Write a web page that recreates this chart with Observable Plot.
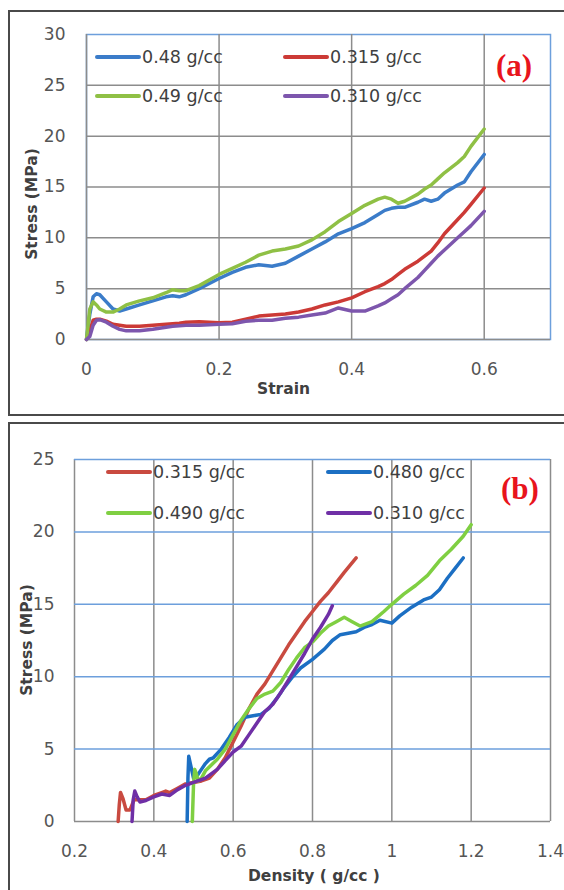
<!DOCTYPE html>
<html>
<head>
<meta charset="utf-8">
<script src="https://cdn.jsdelivr.net/npm/d3@7"></script>
<script src="https://cdn.jsdelivr.net/npm/@observablehq/plot@0.6"></script>
<style>
  html, body { margin: 0; padding: 0; background: #fff; }
  #wrap { position: relative; width: 564px; height: 890px; overflow: hidden; background: #fff; font-family: "DejaVu Sans", sans-serif; }
  .frame { position: absolute; border: 2px solid #4a4a4a; box-sizing: border-box; }
  .chart { position: absolute; left: 0; }
  .leg { position: absolute; display: flex; align-items: center; height: 22px; font-size: 17.5px; color: #404040; white-space: nowrap; }
  .leg .sw { display: inline-block; width: 46px; height: 4px; border-radius: 2px; margin-right: 1px; }
  .tag { position: absolute; font-family: "Liberation Serif", "Times New Roman", serif; font-weight: bold; font-size: 31px; color: #e8141c; line-height: 1; }
  .title { position: absolute; font-weight: bold; font-size: 15.5px; color: #404040; white-space: nowrap; line-height: 1; }
</style>
</head>
<body>
<div id="wrap">
  <div class="frame" style="left:8px; top:10px; width:580px; height:406px;"></div>
  <div class="frame" style="left:8px; top:422px; width:580px; height:500px;"></div>
  <div id="chartA" class="chart" style="top:0px;"></div>
  <div id="chartB" class="chart" style="top:420px;"></div>
</div>
<script>
// ---------- Panel (a): Stress vs Strain ----------
const strainA = [0, 0.005, 0.01, 0.015, 0.02, 0.03, 0.04, 0.05, 0.06, 0.08, 0.1, 0.12, 0.13, 0.14, 0.15, 0.17, 0.2, 0.22, 0.24, 0.26, 0.28, 0.3, 0.32, 0.34, 0.36, 0.38, 0.4, 0.42, 0.44, 0.45, 0.46, 0.47, 0.48, 0.5, 0.51, 0.52, 0.53, 0.54, 0.56, 0.57, 0.58, 0.6];
const stressA_048 = [0, 2.5, 4.2, 4.5, 4.4, 3.7, 3.0, 2.8, 3.0, 3.4, 3.8, 4.2, 4.3, 4.2, 4.4, 5.0, 6.0, 6.6, 7.1, 7.35, 7.2, 7.5, 8.2, 8.9, 9.6, 10.4, 10.9, 11.5, 12.3, 12.7, 12.9, 13.0, 13.0, 13.5, 13.8, 13.6, 13.8, 14.4, 15.2, 15.5, 16.5, 18.2];
const stressA_0315 = [0, 0.8, 1.9, 2.0, 2.0, 1.8, 1.5, 1.4, 1.3, 1.3, 1.4, 1.5, 1.55, 1.6, 1.7, 1.75, 1.65, 1.7, 2.0, 2.3, 2.4, 2.5, 2.7, 3.0, 3.4, 3.7, 4.1, 4.7, 5.2, 5.5, 5.9, 6.4, 6.9, 7.7, 8.2, 8.7, 9.5, 10.4, 11.8, 12.5, 13.3, 14.9];
const stressA_049 = [0, 3.0, 3.7, 3.4, 3.0, 2.7, 2.7, 3.0, 3.4, 3.8, 4.1, 4.6, 4.9, 4.8, 4.8, 5.3, 6.4, 7.0, 7.6, 8.3, 8.7, 8.9, 9.2, 9.8, 10.6, 11.6, 12.4, 13.2, 13.8, 14.0, 13.8, 13.4, 13.6, 14.3, 14.8, 15.2, 15.8, 16.4, 17.4, 18.0, 19.0, 20.7];
const stressA_0310 = [0, 0.3, 1.4, 1.9, 1.95, 1.7, 1.3, 1.0, 0.85, 0.85, 1.0, 1.2, 1.3, 1.35, 1.4, 1.4, 1.5, 1.55, 1.8, 1.9, 1.9, 2.1, 2.2, 2.4, 2.6, 3.1, 2.8, 2.8, 3.3, 3.6, 4.0, 4.4, 5.0, 6.1, 6.8, 7.5, 8.2, 8.8, 10.0, 10.6, 11.2, 12.6];
const seriesA = ["0.48 g/cc", "0.315 g/cc", "0.49 g/cc", "0.310 g/cc"];
const colorsA = ["#3b7cc9", "#cc3a36", "#8fc045", "#7d56ad"];
const xTicksA = [0, 0.2, 0.4, 0.6];
const yTicksA = [0, 5, 10, 15, 20, 25, 30];

// ---------- Panel (b): Stress vs Density ----------
const dens_0315 = [0.31, 0.313, 0.316, 0.322, 0.33, 0.34, 0.35, 0.36, 0.38, 0.40, 0.42, 0.43, 0.44, 0.46, 0.48, 0.50, 0.52, 0.54, 0.56, 0.58, 0.60, 0.62, 0.64, 0.66, 0.68, 0.70, 0.72, 0.74, 0.76, 0.78, 0.80, 0.82, 0.84, 0.86, 0.88, 0.91];
const stressB_0315 = [0, 1.2, 2.0, 1.6, 0.8, 0.8, 1.5, 1.5, 1.5, 1.8, 2.0, 2.1, 2.0, 2.3, 2.6, 2.7, 2.8, 3.0, 3.6, 4.4, 5.5, 6.6, 7.8, 8.8, 9.5, 10.4, 11.3, 12.2, 13.0, 13.8, 14.5, 15.2, 15.8, 16.5, 17.2, 18.2];
const dens_0480 = [0.484, 0.486, 0.488, 0.492, 0.50, 0.51, 0.52, 0.53, 0.54, 0.55, 0.57, 0.59, 0.61, 0.63, 0.65, 0.67, 0.69, 0.71, 0.73, 0.75, 0.77, 0.80, 0.83, 0.85, 0.87, 0.89, 0.91, 0.93, 0.95, 0.97, 1.0, 1.02, 1.05, 1.08, 1.10, 1.12, 1.14, 1.16, 1.18];
const stressB_0480 = [0, 3.0, 4.5, 4.0, 3.0, 3.2, 3.6, 4.0, 4.3, 4.4, 5.0, 5.8, 6.7, 7.2, 7.3, 7.4, 7.8, 8.5, 9.3, 10.0, 10.6, 11.2, 11.9, 12.5, 12.9, 13.0, 13.1, 13.4, 13.6, 13.9, 13.7, 14.2, 14.8, 15.3, 15.5, 16.0, 16.8, 17.5, 18.2];
const dens_0490 = [0.497, 0.50, 0.503, 0.507, 0.512, 0.52, 0.53, 0.545, 0.56, 0.58, 0.60, 0.62, 0.64, 0.66, 0.68, 0.70, 0.72, 0.74, 0.76, 0.78, 0.80, 0.82, 0.84, 0.86, 0.88, 0.90, 0.92, 0.95, 0.98, 1.0, 1.03, 1.06, 1.09, 1.12, 1.15, 1.18, 1.2];
const stressB_0490 = [0, 2.5, 3.6, 3.3, 2.8, 3.0, 3.5, 3.9, 4.3, 5.0, 6.0, 7.0, 7.8, 8.5, 8.8, 9.0, 9.6, 10.5, 11.3, 12.0, 12.4, 13.0, 13.5, 13.8, 14.1, 13.8, 13.5, 13.8, 14.5, 15.0, 15.7, 16.3, 17.0, 18.0, 18.8, 19.7, 20.5];
const dens_0310 = [0.345, 0.348, 0.352, 0.358, 0.365, 0.38, 0.40, 0.42, 0.44, 0.46, 0.48, 0.50, 0.53, 0.56, 0.58, 0.60, 0.62, 0.64, 0.66, 0.68, 0.70, 0.72, 0.74, 0.76, 0.78, 0.80, 0.82, 0.84, 0.85];
const stressB_0310 = [0, 1.5, 2.1, 1.7, 1.35, 1.45, 1.7, 1.9, 1.8, 2.2, 2.5, 2.7, 3.0, 3.6, 4.2, 4.8, 5.2, 6.0, 6.8, 7.6, 8.1, 8.9, 9.8, 10.7, 11.6, 12.6, 13.4, 14.3, 14.9];
const seriesB = ["0.315 g/cc", "0.480 g/cc", "0.490 g/cc", "0.310 g/cc"];
const colorsB = ["#c94a40", "#1c6fc3", "#7fcf42", "#6f2fa6"];
const xTicksB = [0.2, 0.4, 0.6, 0.8, 1, 1.2, 1.4];
const yTicksB = [0, 5, 10, 15, 20, 25];

// ---------- build tables ----------
const tableA = [];
[stressA_048, stressA_0315, stressA_049, stressA_0310].forEach((arr, i) =>
  arr.forEach((v, j) => tableA.push({series: seriesA[i], x: strainA[j], y: v})));
const tableB = [];
[[dens_0315, stressB_0315], [dens_0480, stressB_0480], [dens_0490, stressB_0490], [dens_0310, stressB_0310]]
  .forEach(([xs, ys], i) => xs.forEach((d, j) => tableB.push({series: seriesB[i], x: d, y: ys[j]})));

const gray = "#8c8c8c";
const lightBlue = "#6d9fdc";
const axisStyle = {fontFamily: "DejaVu Sans, sans-serif", fontSize: "17px", color: "#555555", background: "transparent", overflow: "visible"};

const chartA = Plot.plot({
  width: 564, height: 420,
  marginLeft: 86, marginRight: 14, marginTop: 34, marginBottom: 81,
  style: axisStyle,
  x: {domain: [0, 0.7]},
  y: {domain: [0, 30]},
  color: {domain: seriesA, range: colorsA},
  marks: [
    Plot.frame({stroke: lightBlue, strokeWidth: 1.5}),
    Plot.gridY({ticks: yTicksA.slice(0, -1), stroke: gray, strokeOpacity: 1, strokeWidth: 1.5}),
    Plot.gridX({ticks: xTicksA, stroke: gray, strokeOpacity: 1, strokeWidth: 1.5}),
    Plot.axisX({ticks: xTicksA, tickSize: 0, tickPadding: 23, tickFormat: d => String(d), label: null}),
    Plot.axisY({ticks: yTicksA, tickSize: 0, tickPadding: 21, tickFormat: d => String(d), label: null}),
    Plot.line(tableA, {x: "x", y: "y", z: "series", stroke: "series", strokeWidth: 3.5, strokeLinejoin: "round", strokeLinecap: "round"})
  ]
});
document.getElementById("chartA").appendChild(chartA);

const chartB = Plot.plot({
  width: 564, height: 470,
  marginLeft: 74, marginRight: 14, marginTop: 39, marginBottom: 69,
  style: axisStyle,
  x: {domain: [0.2, 1.4]},
  y: {domain: [0, 25]},
  color: {domain: seriesB, range: colorsB},
  marks: [
    Plot.gridX({ticks: xTicksB, stroke: gray, strokeOpacity: 1, strokeWidth: 1.5}),
    Plot.gridY({ticks: yTicksB.slice(1), stroke: lightBlue, strokeOpacity: 1, strokeWidth: 1.5}),
    Plot.ruleY([0], {stroke: gray, strokeWidth: 1.5}),
    Plot.axisX({ticks: xTicksB, tickSize: 0, tickPadding: 23, tickFormat: d => String(d), label: null}),
    Plot.axisY({ticks: yTicksB, tickSize: 0, tickPadding: 20, tickFormat: d => String(d), label: null}),
    Plot.line(tableB, {x: "x", y: "y", z: "series", stroke: "series", strokeWidth: 3.5, strokeLinejoin: "round", strokeLinecap: "round"})
  ]
});
document.getElementById("chartB").appendChild(chartB);

// ---------- HTML legends, titles, tags ----------
const wrap = document.getElementById("wrap");
function addLegend(label, color, left, top) {
  const d = document.createElement("div");
  d.className = "leg";
  d.style.left = left + "px";
  d.style.top = (top - 11) + "px";
  d.innerHTML = `<span class="sw" style="background:${color}"></span><span>${label}</span>`;
  wrap.appendChild(d);
}
const legPosA = [[95, 57], [283, 57], [95, 96], [283, 96]];
seriesA.forEach((s, i) => addLegend(s, colorsA[i], legPosA[i][0], legPosA[i][1]));
const legPosB = [[106, 472], [326, 472], [106, 513], [326, 513]];
seriesB.forEach((s, i) => addLegend(s, colorsB[i], legPosB[i][0], legPosB[i][1]));

function addDiv(cls, text, style) {
  const d = document.createElement("div");
  d.className = cls;
  d.textContent = text;
  Object.assign(d.style, style);
  wrap.appendChild(d);
  return d;
}
addDiv("tag", "(a)", {left: "496px", top: "50px"});
addDiv("tag", "(b)", {left: "501px", top: "473px"});
addDiv("title", "Strain", {left: "257px", top: "382px"});
addDiv("title", "Density ( g/cc )", {left: "248px", top: "869px"});
addDiv("title", "Stress (MPa)", {left: "33px", top: "204px", transform: "translate(-50%,-50%) rotate(-90deg)"});
addDiv("title", "Stress (MPa)", {left: "28px", top: "640px", transform: "translate(-50%,-50%) rotate(-90deg)"});
</script>
</body>
</html>
